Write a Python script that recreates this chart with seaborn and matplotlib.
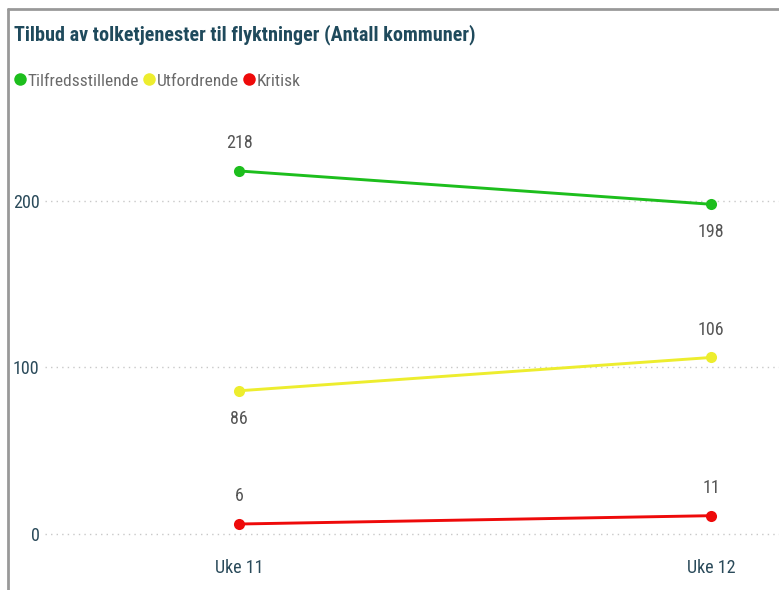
import matplotlib
matplotlib.use("Agg")
import matplotlib.pyplot as plt
from matplotlib.lines import Line2D
import seaborn as sns
import pandas as pd

weeks = ["Uke 11", "Uke 12"]
series_names = ["Tilfredsstillende", "Utfordrende", "Kritisk"]
tilfreds = [218, 198]
utford = [86, 106]
kritisk = [6, 11]
colors = ["#1DBE1D", "#EDED2E", "#EE0A0A"]
yticks = [0, 100, 200]

sns.set_theme(style="white")
plt.rcParams['font.family'] = ['Roboto Condensed', 'DejaVu Sans']

rows = []
for name, vals in zip(series_names, [tilfreds, utford, kritisk]):
    for i, (w, v) in enumerate(zip(weeks, vals)):
        rows.append({"week": i, "label": w, "series": name, "value": v})
df = pd.DataFrame(rows)

fig = plt.figure(figsize=(7.79, 5.90), dpi=100)
ax = fig.add_axes([45/779, 1-545/590, 1-45/779, (545-110)/590])

sns.lineplot(data=df, x="week", y="value", hue="series", palette=colors,
             hue_order=series_names, marker="o", markersize=8, markeredgewidth=0,
             linewidth=2.1, ax=ax, legend=False)

ax.set_xlim(-0.411, 1.144)
ax.set_ylim(-6.6, 254.6)
ax.set_xticks([0, 1])
ax.set_xticklabels(weeks)
ax.set_yticks(yticks)
ax.set_yticklabels([str(t) for t in yticks])
ax.set_xlabel("")
ax.set_ylabel("")
ax.tick_params(axis="both", length=0, labelsize=13, labelcolor="#2a4a5a")
ax.tick_params(axis="y", pad=4)
ax.tick_params(axis="x", pad=10)
for s in ax.spines.values():
    s.set_visible(False)
ax.yaxis.grid(True, linestyle=(0, (1, 3)), color="#c8c8c8", linewidth=1)
ax.set_axisbelow(True)

# data labels: offsets in points (above positive, below negative)
offsets = {"Tilfredsstillende": [1, -1], "Utfordrende": [-1, 1], "Kritisk": [1, 1]}
for name, vals in zip(series_names, [tilfreds, utford, kritisk]):
    for i, v in enumerate(vals):
        d = offsets[name][i]
        ax.annotate(str(v), (i, v), xytext=(0, 20 * d), textcoords="offset points",
                    ha="center", va="center", fontsize=13, color="#555555")

# title
fig.text(14/779, 1-35/590, "Tilbud av tolketjenester til flyktninger (Antall kommuner)",
         fontsize=14.5, fontweight="bold", color="#1f4a5c", va="center", ha="left")

# legend
handles = [Line2D([0], [0], marker="o", color="none", markerfacecolor=c,
                  markeredgewidth=0, markersize=9) for c in colors]
leg = fig.legend(handles, series_names, loc="center left",
                 bbox_to_anchor=(15/779, 1-81/590), ncol=3, frameon=False,
                 fontsize=12.5, handlelength=0.6, handletextpad=0.12,
                 columnspacing=0.3, borderaxespad=0, borderpad=0)
for t in leg.get_texts():
    t.set_color("#6a6a6a")

# border
fig.add_artist(Line2D([8/779, 1], [1-9/590, 1-9/590], color="#999999", linewidth=2,
                      transform=fig.transFigure))
fig.add_artist(Line2D([8/779, 8/779], [1-9/590, 0], color="#999999", linewidth=2,
                      transform=fig.transFigure))

fig.savefig("out.png", dpi=100)
